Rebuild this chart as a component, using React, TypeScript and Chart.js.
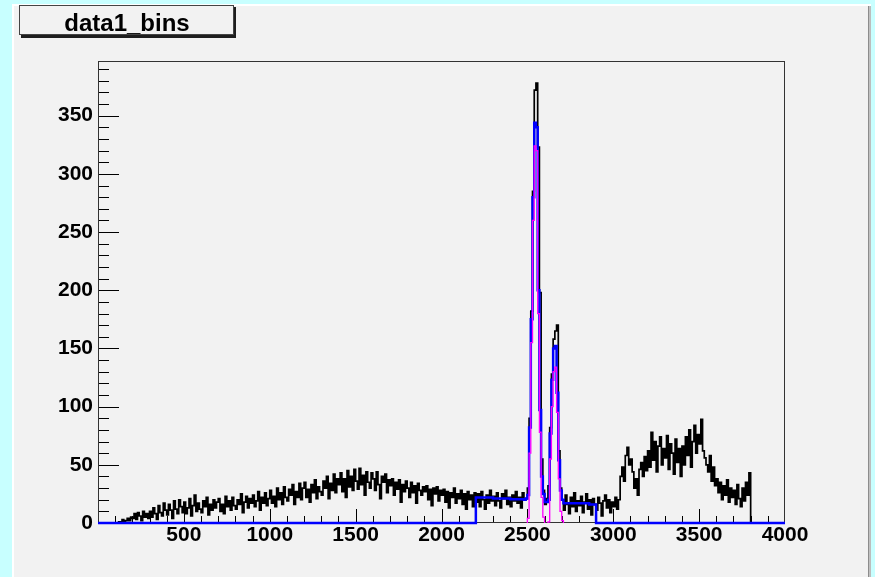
import { useEffect, useRef } from "react";
import { Chart, registerables } from "chart.js";

Chart.register(...registerables);

// ---------- data ----------
const xTickLabels = [500, 1000, 1500, 2000, 2500, 3000, 3500, 4000];
const yTickLabels = [0, 50, 100, 150, 200, 250, 300, 350];
const X_MIN = 0;
const X_MAX = 4000;
const Y_MIN = 0;
const Y_MAX = 397;

const histStart = 100;
const binWidth = 10;
// counts per 10-unit bin, one row per 100 units, starting at 100
const histCounts = [
  0, 0, 1, 0, 3, 1, 2, 4, 2, 5,
  4, 8, 3, 9, 6, 2, 10, 5, 8, 4,
  10, 5, 13, 8, 3, 15, 9, 6, 17, 11,
  7, 16, 11, 4, 19, 12, 8, 20, 14, 9,
  18, 8, 13, 21, 6, 15, 24, 10, 17, 12,
  9, 19, 14, 22, 7, 16, 11, 20, 13, 18,
  21, 10, 16, 8, 23, 14, 19, 11, 22, 15,
  12, 20, 16, 25, 9, 18, 23, 13, 21, 17,
  24, 14, 19, 27, 11, 22, 17, 26, 15, 21,
  28, 17, 23, 14, 30, 20, 26, 16, 31, 22,
  19, 29, 24, 33, 16, 27, 22, 34, 20, 30,
  35, 22, 29, 18, 33, 26, 37, 21, 31, 27,
  24, 36, 30, 40, 21, 34, 28, 42, 26, 38,
  33, 43, 27, 38, 22, 45, 31, 40, 28, 46,
  36, 29, 47, 33, 41, 24, 44, 35, 30, 43,
  38, 28, 44, 33, 21, 40, 35, 42, 26, 37,
  32, 38, 24, 35, 29, 37, 18, 33, 27, 36,
  30, 22, 35, 26, 32, 17, 34, 28, 24, 31,
  27, 32, 20, 29, 15, 30, 25, 31, 19, 28,
  24, 29, 18, 27, 13, 26, 22, 30, 17, 25,
  21, 28, 16, 25, 12, 27, 20, 24, 14, 26,
  18, 25, 14, 27, 20, 12, 24, 17, 28, 19,
  23, 15, 26, 19, 13, 25, 21, 28, 16, 22,
  14, 24, 19, 27, 17, 22, 13, 26, 20, 21,
  30, 90, 182, 285, 372, 378, 323, 198, 55, 28,
  16, 21, 32, 82, 128, 158, 165, 170, 62, 30,
  20, 11, 24, 16, 8, 22, 14, 26, 10, 19,
  15, 23, 9, 18, 25, 12, 20, 7, 21, 16,
  11, 22, 17, 6, 19, 24, 13, 20, 9, 18,
  14, 22, 12, 20, 40, 48, 36, 58, 65, 50,
  55, 44, 30, 38, 24, 46, 52, 40, 57, 45,
  62, 48, 78, 54, 70, 44, 66, 74, 50, 64,
  56, 75, 46, 68, 60, 42, 72, 52, 64, 40,
  66, 50, 74, 58, 80, 48, 70, 84, 60, 76,
  68, 89, 62, 56, 50, 44, 58, 36, 48, 32,
  38, 26, 35, 20, 32, 24, 37, 18, 30, 22,
  28, 16, 33, 21, 14, 30, 19, 35, 24, 43,
];

// total fit (blue), value holds from each edge to the next
const fitEdges = [
  0, 2200, 2300, 2400, 2480, 2490, 2500, 2510, 2520, 2530,
  2540, 2550, 2560, 2570, 2580, 2590, 2600, 2620, 2630, 2640,
  2650, 2660, 2670, 2680, 2690, 2700, 2710, 2860, 2900, 4000,
];
const fitValues = [
  0, 22, 21, 20.5, 20, 21, 24, 82, 175, 280,
  344, 340, 200, 97, 40, 25, 18, 20, 77, 123,
  150, 152, 112, 54, 28, 20, 17, 16, 0, 0,
];

// gaussian peaks (magenta)
const peakEdges = [
  2500, 2500, 2510, 2520, 2530, 2540, 2550, 2560, 2570, 2580, 2590, 2600, 2610,
  2620, 2620, 2630, 2640, 2650, 2660, 2670, 2680, 2690, 2700, 2710,
];
const peakValues = [
  0, 4, 60, 155, 260, 324, 320, 180, 78, 22, 5, 0, null,
  0, 1, 55, 100, 130, 134, 95, 38, 10, 2, 0,
];

// ---------- helpers ----------
function buildHist() {
  const pts: { x: number; y: number }[] = [{ x: X_MIN, y: 0 }, { x: histStart, y: 0 }];
  histCounts.forEach((c, i) => pts.push({ x: histStart + i * binWidth, y: c }));
  pts.push({ x: histStart + histCounts.length * binWidth, y: 0 });
  pts.push({ x: X_MAX, y: 0 });
  return pts;
}
function zip(xs: number[], ys: (number | null)[]) {
  return xs.map((x, i) => ({ x, y: ys[i] }));
}

const FONT = "'Liberation Sans', Arial, Helvetica, sans-serif";

const backgroundPlugin = {
  id: "rootBackground",
  beforeDraw(chart: any) {
    const { ctx, width, height } = chart;
    ctx.save();
    ctx.fillStyle = "#c8ffff";
    ctx.fillRect(0, 0, width, height);
    ctx.fillStyle = "#ffffff";
    ctx.fillRect(12, 4, 859, height - 4);
    ctx.fillStyle = "#f2f2f2";
    ctx.fillRect(14, 6, 854, height - 6);
    ctx.fillStyle = "#8c8c8c";
    ctx.fillRect(868, 6, 1.5, height - 6);
    ctx.fillStyle = "#bdbdbd";
    ctx.fillRect(869.5, 6, 1.5, height - 6);
    ctx.restore();
  },
};

const framePlugin = {
  id: "rootFrame",
  beforeDatasetsDraw(chart: any) {
    const { ctx, chartArea: a, scales } = chart;
    const xs = scales.x;
    const ys = scales.y;
    ctx.save();
    ctx.strokeStyle = "#000";
    ctx.lineWidth = 1;
    ctx.beginPath();
    for (let v = 100; v < X_MAX; v += 100) {
      const px = Math.round(xs.getPixelForValue(v)) + 0.5;
      const len = v % 500 === 0 ? 14 : 7;
      ctx.moveTo(px, a.bottom);
      ctx.lineTo(px, a.bottom - len);
    }
    for (let v = 10; v < Y_MAX; v += 10) {
      const py = Math.round(ys.getPixelForValue(v)) + 0.5;
      const len = v % 50 === 0 ? 21 : 11;
      ctx.moveTo(a.left, py);
      ctx.lineTo(a.left + len, py);
    }
    ctx.stroke();
    ctx.strokeStyle = "#333";
    ctx.strokeRect(a.left + 0.5, a.top + 0.5, a.right - a.left - 1, a.bottom - a.top - 1);
    ctx.restore();
  },
  afterDraw(chart: any) {
    const { ctx } = chart;
    ctx.save();
    ctx.fillStyle = "#1e1e1e";
    ctx.fillRect(21, 7, 215, 31);
    ctx.fillStyle = "#f2f2f2";
    ctx.fillRect(19, 5, 215, 30);
    ctx.strokeStyle = "#444";
    ctx.lineWidth = 1;
    ctx.strokeRect(19.5, 5.5, 214, 29);
    ctx.fillStyle = "#000";
    ctx.font = `bold 24px ${FONT}`;
    ctx.textAlign = "center";
    ctx.textBaseline = "alphabetic";
    ctx.fillText("data1_bins", 127, 31);
    ctx.restore();
  },
};

export default function App() {
  const ref = useRef<HTMLCanvasElement | null>(null);

  useEffect(() => {
    document.body.style.margin = "0";
    const canvas = ref.current;
    if (!canvas) return;
    const chart = new Chart(canvas, {
      type: "line",
      data: {
        datasets: [
          {
            label: "peaks",
            data: zip(peakEdges, peakValues) as any,
            borderColor: "#ff00ff",
            borderWidth: 1.3,
            stepped: "before",
            pointRadius: 0,
            fill: false,
            spanGaps: false,
            order: 0,
          },
          {
            label: "fit",
            data: zip(fitEdges, fitValues) as any,
            borderColor: "#0000ff",
            borderWidth: 2.5,
            stepped: "before",
            pointRadius: 0,
            fill: false,
            clip: 2 as any,
            order: 1,
          },
          {
            label: "data1_bins",
            data: buildHist() as any,
            borderColor: "#000000",
            borderWidth: 1.7,
            stepped: "before",
            pointRadius: 0,
            fill: false,
            order: 2,
          },
        ],
      },
      options: {
        responsive: false,
        animation: false,
        devicePixelRatio: 1,
        parsing: false as any,
        normalized: true,
        events: [],
        layout: { padding: { left: 0, top: 61, right: 90, bottom: 0 } },
        plugins: {
          legend: { display: false },
          tooltip: { enabled: false },
          title: { display: false },
        },
        scales: {
          x: {
            type: "linear",
            min: X_MIN,
            max: X_MAX,
            grid: { display: false, drawTicks: false },
            border: { display: false },
            ticks: {
              color: "#000",
              font: { family: FONT, size: 21, weight: "bold" },
              padding: 0,
              maxRotation: 0,
              autoSkip: false,
              callback: (v: any) => String(v),
            },
            afterBuildTicks: (s: any) => {
              s.ticks = xTickLabels.map((v) => ({ value: v }));
            },
            afterFit: (s: any) => {
              s.height = 54;
            },
          },
          y: {
            type: "linear",
            min: Y_MIN,
            max: Y_MAX,
            grid: { display: false, drawTicks: false },
            border: { display: false },
            ticks: {
              color: "#000",
              font: { family: FONT, size: 21, weight: "bold" },
              padding: 5,
              autoSkip: false,
              callback: (v: any) => String(v),
            },
            afterBuildTicks: (s: any) => {
              s.ticks = yTickLabels.map((v) => ({ value: v }));
            },
            afterFit: (s: any) => {
              s.width = 98;
            },
          },
        },
      },
      plugins: [backgroundPlugin, framePlugin],
    });
    return () => chart.destroy();
  }, []);

  return (
    <div style={{ width: 875, height: 577, overflow: "hidden" }}>
      <canvas ref={ref} width={875} height={577} style={{ display: "block" }} />
    </div>
  );
}
